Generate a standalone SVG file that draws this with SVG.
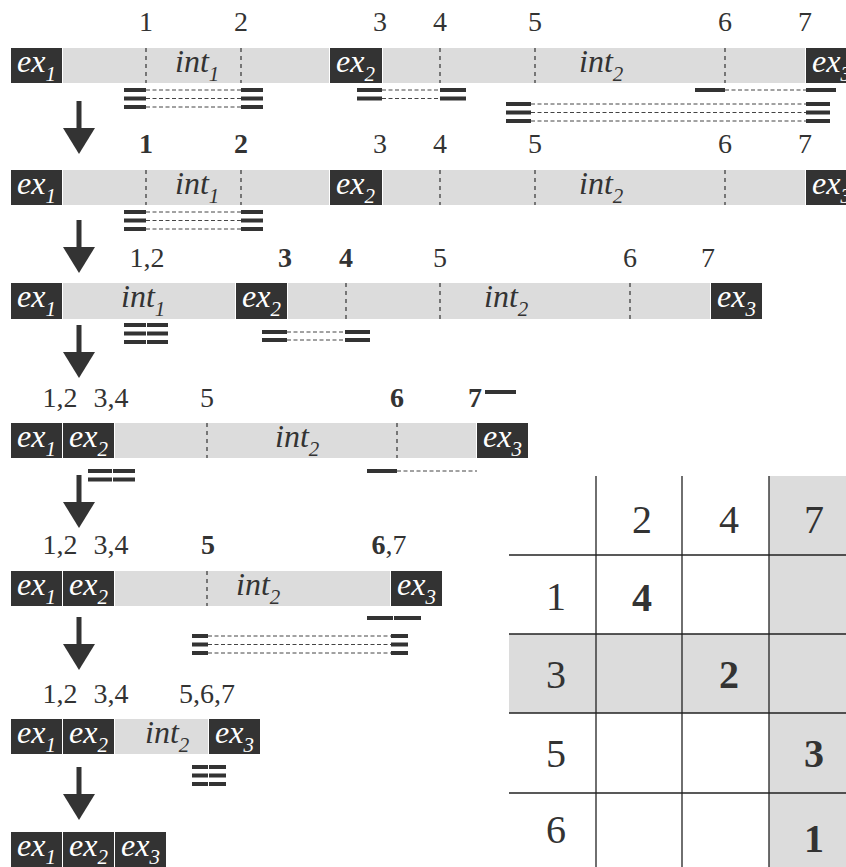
<svg xmlns="http://www.w3.org/2000/svg" width="846" height="867" viewBox="0 0 846 867">
<defs>
<style>
.ex{fill:#333}
.in{fill:#dcdcdc}
.vd{stroke:#333;stroke-width:1.2;stroke-dasharray:4 4}
.hd{stroke:#444;stroke-width:1;stroke-dasharray:4 2.5}
.tk{fill:#333}
.lab{font-family:"Liberation Serif",serif;font-size:28px;fill:#333;text-anchor:middle}
.b{font-weight:bold}
.et{font-family:"Liberation Serif",serif;font-style:italic;font-size:32px;fill:#fff}
.it{font-family:"Liberation Serif",serif;font-style:italic;font-size:32px;fill:#333}
.sub{font-size:21px}
.arr{stroke:#333;stroke-width:5;marker-end:url(#ah)}
.tl{stroke:#222;stroke-width:1.3}
.tg{fill:#dcdcdc}
.tn{font-family:"Liberation Serif",serif;font-size:40px;fill:#333;text-anchor:middle}
</style>
<marker id="ah" markerUnits="userSpaceOnUse" viewBox="0 0 32 26" refX="16" refY="0" markerWidth="32" markerHeight="26" orient="0"><path d="M0,0L32,0L16,26z" fill="#333"/></marker>
</defs>
<rect width="846" height="867" fill="#fff"/>

<!-- Row 1 -->
<g id="row1">
<rect class="ex" x="11" y="48" width="51" height="35"/>
<rect class="in" x="63" y="48" width="266" height="35"/>
<rect class="ex" x="330" y="48" width="52" height="35"/>
<rect class="in" x="383" y="48" width="422" height="35"/>
<rect class="ex" x="806" y="48" width="40" height="35"/>
<line class="vd" x1="146" y1="48" x2="146" y2="83"/>
<line class="vd" x1="241" y1="48" x2="241" y2="83"/>
<line class="vd" x1="440" y1="48" x2="440" y2="83"/>
<line class="vd" x1="535" y1="48" x2="535" y2="83"/>
<line class="vd" x1="725" y1="48" x2="725" y2="83"/>
<text class="et" x="17" y="72">ex<tspan class="sub" dy="9">1</tspan></text>
<text class="it" x="175" y="72">int<tspan class="sub" dy="9">1</tspan></text>
<text class="et" x="336" y="72">ex<tspan class="sub" dy="9">2</tspan></text>
<text class="it" x="579" y="72">int<tspan class="sub" dy="9">2</tspan></text>
<text class="et" x="812" y="72">ex<tspan class="sub" dy="9">3</tspan></text>
<text class="lab" x="146" y="31">1</text>
<text class="lab" x="241" y="31">2</text>
<text class="lab" x="380" y="31">3</text>
<text class="lab" x="440" y="31">4</text>
<text class="lab" x="535" y="31">5</text>
<text class="lab" x="725" y="31">6</text>
<text class="lab" x="805" y="31">7</text>
</g>

<!-- Row 2 -->
<g id="row2">
<rect class="ex" x="11" y="170" width="51" height="35"/>
<rect class="in" x="63" y="170" width="266" height="35"/>
<rect class="ex" x="330" y="170" width="52" height="35"/>
<rect class="in" x="383" y="170" width="422" height="35"/>
<rect class="ex" x="806" y="170" width="40" height="35"/>
<line class="vd" x1="146" y1="170" x2="146" y2="205"/>
<line class="vd" x1="241" y1="170" x2="241" y2="205"/>
<line class="vd" x1="440" y1="170" x2="440" y2="205"/>
<line class="vd" x1="535" y1="170" x2="535" y2="205"/>
<line class="vd" x1="725" y1="170" x2="725" y2="205"/>
<text class="et" x="17" y="194">ex<tspan class="sub" dy="9">1</tspan></text>
<text class="it" x="175" y="194">int<tspan class="sub" dy="9">1</tspan></text>
<text class="et" x="336" y="194">ex<tspan class="sub" dy="9">2</tspan></text>
<text class="it" x="579" y="194">int<tspan class="sub" dy="9">2</tspan></text>
<text class="et" x="812" y="194">ex<tspan class="sub" dy="9">3</tspan></text>
<text class="lab b" x="146" y="153">1</text>
<text class="lab b" x="241" y="153">2</text>
<text class="lab" x="380" y="153">3</text>
<text class="lab" x="440" y="153">4</text>
<text class="lab" x="535" y="153">5</text>
<text class="lab" x="725" y="153">6</text>
<text class="lab" x="805" y="153">7</text>
</g>

<!-- Row 3 -->
<g id="row3">
<rect class="ex" x="11" y="283" width="51" height="36"/>
<rect class="in" x="63" y="283" width="172" height="36"/>
<rect class="ex" x="236" y="283" width="51" height="36"/>
<rect class="in" x="288" y="283" width="422" height="36"/>
<rect class="ex" x="711" y="283" width="51" height="36"/>
<line class="vd" x1="346" y1="283" x2="346" y2="319"/>
<line class="vd" x1="440" y1="283" x2="440" y2="319"/>
<line class="vd" x1="630" y1="283" x2="630" y2="319"/>
<text class="et" x="17" y="307">ex<tspan class="sub" dy="9">1</tspan></text>
<text class="it" x="121" y="307">int<tspan class="sub" dy="9">1</tspan></text>
<text class="et" x="242" y="307">ex<tspan class="sub" dy="9">2</tspan></text>
<text class="it" x="484" y="307">int<tspan class="sub" dy="9">2</tspan></text>
<text class="et" x="717" y="307">ex<tspan class="sub" dy="9">3</tspan></text>
<text class="lab" x="147" y="267">1,2</text>
<text class="lab b" x="285" y="267">3</text>
<text class="lab b" x="346" y="267">4</text>
<text class="lab" x="440" y="267">5</text>
<text class="lab" x="630" y="267">6</text>
<text class="lab" x="708" y="267">7</text>
</g>

<!-- Row 4 -->
<g id="row4">
<rect class="ex" x="11" y="423" width="51" height="35"/>
<rect class="ex" x="63" y="423" width="51" height="35"/>
<rect class="in" x="115" y="423" width="361" height="35"/>
<rect class="ex" x="477" y="423" width="51" height="35"/>
<line class="vd" x1="207" y1="423" x2="207" y2="458"/>
<line class="vd" x1="397" y1="423" x2="397" y2="458"/>
<text class="et" x="17" y="447">ex<tspan class="sub" dy="9">1</tspan></text>
<text class="et" x="69" y="447">ex<tspan class="sub" dy="9">2</tspan></text>
<text class="it" x="275" y="447">int<tspan class="sub" dy="9">2</tspan></text>
<text class="et" x="483" y="447">ex<tspan class="sub" dy="9">3</tspan></text>
<text class="lab" x="60" y="407">1,2</text>
<text class="lab" x="111" y="407">3,4</text>
<text class="lab" x="207" y="407">5</text>
<text class="lab b" x="397" y="407">6</text>
<text class="lab b" x="475" y="407">7</text>
</g>

<!-- Row 5 -->
<g id="row5">
<rect class="ex" x="11" y="571" width="51" height="35"/>
<rect class="ex" x="63" y="571" width="51" height="35"/>
<rect class="in" x="115" y="571" width="275" height="35"/>
<rect class="ex" x="391" y="571" width="51" height="35"/>
<line class="vd" x1="207" y1="571" x2="207" y2="606"/>
<text class="et" x="17" y="595">ex<tspan class="sub" dy="9">1</tspan></text>
<text class="et" x="69" y="595">ex<tspan class="sub" dy="9">2</tspan></text>
<text class="it" x="236" y="595">int<tspan class="sub" dy="9">2</tspan></text>
<text class="et" x="397" y="595">ex<tspan class="sub" dy="9">3</tspan></text>
<text class="lab" x="60" y="554">1,2</text>
<text class="lab" x="111" y="554">3,4</text>
<text class="lab b" x="208" y="554">5</text>
<text class="lab" x="389" y="554"><tspan class="b">6</tspan>,7</text>
</g>

<!-- Row 6 -->
<g id="row6">
<rect class="ex" x="11" y="719" width="51" height="35"/>
<rect class="ex" x="63" y="719" width="51" height="35"/>
<rect class="in" x="115" y="719" width="93" height="35"/>
<rect class="ex" x="209" y="719" width="51" height="35"/>
<text class="et" x="17" y="743">ex<tspan class="sub" dy="9">1</tspan></text>
<text class="et" x="69" y="743">ex<tspan class="sub" dy="9">2</tspan></text>
<text class="it" x="145" y="743">int<tspan class="sub" dy="9">2</tspan></text>
<text class="et" x="215" y="743">ex<tspan class="sub" dy="9">3</tspan></text>
<text class="lab" x="60" y="703">1,2</text>
<text class="lab" x="111" y="703">3,4</text>
<text class="lab" x="207" y="703">5,6,7</text>
</g>

<!-- Row 7 -->
<g id="row7">
<rect class="ex" x="11" y="832" width="51" height="35"/>
<rect class="ex" x="63" y="832" width="51" height="35"/>
<rect class="ex" x="115" y="832" width="51" height="35"/>
<text class="et" x="17" y="856">ex<tspan class="sub" dy="8">1</tspan></text>
<text class="et" x="69" y="856">ex<tspan class="sub" dy="8">2</tspan></text>
<text class="et" x="121" y="856">ex<tspan class="sub" dy="8">3</tspan></text>
</g>

<!-- Connectors -->
<g id="connectors">
<!-- row 1 intervals -->
<rect class="tk" x="124" y="88" width="22" height="4"/><line class="hd" x1="146" y1="90" x2="241" y2="90"/><rect class="tk" x="241" y="88" width="22" height="4"/>
<rect class="tk" x="124" y="96.5" width="22" height="4"/><line class="hd" x1="146" y1="98.5" x2="241" y2="98.5"/><rect class="tk" x="241" y="96.5" width="22" height="4"/>
<rect class="tk" x="124" y="105" width="22" height="4"/><line class="hd" x1="146" y1="107" x2="241" y2="107"/><rect class="tk" x="241" y="105" width="22" height="4"/>
<rect class="tk" x="357" y="88" width="25" height="4"/><line class="hd" x1="382" y1="90" x2="440" y2="90"/><rect class="tk" x="440" y="88" width="26" height="4"/>
<rect class="tk" x="357" y="96.5" width="25" height="4"/><line class="hd" x1="382" y1="98.5" x2="440" y2="98.5"/><rect class="tk" x="440" y="96.5" width="26" height="4"/>
<rect class="tk" x="695" y="88" width="30" height="4"/><line class="hd" x1="725" y1="90" x2="806" y2="90"/><rect class="tk" x="806" y="88" width="30" height="4"/>
<rect class="tk" x="506" y="102" width="25" height="4"/><line class="hd" x1="531" y1="104" x2="806" y2="104"/><rect class="tk" x="806" y="102" width="24" height="4"/>
<rect class="tk" x="506" y="110.5" width="25" height="4"/><line class="hd" x1="531" y1="112.5" x2="806" y2="112.5"/><rect class="tk" x="806" y="110.5" width="24" height="4"/>
<rect class="tk" x="506" y="119" width="25" height="4"/><line class="hd" x1="531" y1="121" x2="806" y2="121"/><rect class="tk" x="806" y="119" width="24" height="4"/>
<!-- row 2 intervals -->
<rect class="tk" x="124" y="210" width="22" height="4"/><line class="hd" x1="146" y1="212" x2="241" y2="212"/><rect class="tk" x="241" y="210" width="22" height="4"/>
<rect class="tk" x="124" y="218.5" width="22" height="4"/><line class="hd" x1="146" y1="220.5" x2="241" y2="220.5"/><rect class="tk" x="241" y="218.5" width="22" height="4"/>
<rect class="tk" x="124" y="227" width="22" height="4"/><line class="hd" x1="146" y1="229" x2="241" y2="229"/><rect class="tk" x="241" y="227" width="22" height="4"/>
<!-- row 3 intervals -->
<rect class="tk" x="124" y="323" width="22" height="4"/><rect class="tk" x="147" y="323" width="21" height="4"/>
<rect class="tk" x="124" y="331.5" width="22" height="4"/><rect class="tk" x="147" y="331.5" width="21" height="4"/>
<rect class="tk" x="124" y="340" width="22" height="4"/><rect class="tk" x="147" y="340" width="21" height="4"/>
<rect class="tk" x="262" y="330" width="25" height="4"/><line class="hd" x1="287" y1="332" x2="345" y2="332"/><rect class="tk" x="345" y="330" width="25" height="4"/>
<rect class="tk" x="262" y="338" width="25" height="4"/><line class="hd" x1="287" y1="340" x2="345" y2="340"/><rect class="tk" x="345" y="338" width="25" height="4"/>
<!-- row 4 intervals -->
<rect class="tk" x="485" y="390" width="31" height="4"/>
<rect class="tk" x="88" y="469" width="24" height="4"/><rect class="tk" x="113" y="469" width="22" height="4"/>
<rect class="tk" x="88" y="477.5" width="24" height="4"/><rect class="tk" x="113" y="477.5" width="22" height="4"/>
<rect class="tk" x="367" y="469" width="30" height="4"/><line class="hd" x1="397" y1="471" x2="477" y2="471"/>
<!-- row 5 intervals -->
<rect class="tk" x="367" y="616" width="26" height="4"/><rect class="tk" x="394" y="616" width="27" height="4"/>
<rect class="tk" x="192" y="634" width="16" height="4"/><line class="hd" x1="208" y1="636" x2="391" y2="636"/><rect class="tk" x="391" y="634" width="17" height="4"/>
<rect class="tk" x="192" y="642.5" width="16" height="4"/><line class="hd" x1="208" y1="644.5" x2="391" y2="644.5"/><rect class="tk" x="391" y="642.5" width="17" height="4"/>
<rect class="tk" x="192" y="651" width="16" height="4"/><line class="hd" x1="208" y1="653" x2="391" y2="653"/><rect class="tk" x="391" y="651" width="17" height="4"/>
<!-- row 6 intervals -->
<rect class="tk" x="192" y="765" width="16" height="4"/><rect class="tk" x="209" y="765" width="17" height="4"/>
<rect class="tk" x="192" y="773.5" width="16" height="4"/><rect class="tk" x="209" y="773.5" width="17" height="4"/>
<rect class="tk" x="192" y="782" width="16" height="4"/><rect class="tk" x="209" y="782" width="17" height="4"/>
<!-- arrows -->
<line class="arr" x1="79" y1="101" x2="79" y2="128"/>
<line class="arr" x1="79" y1="220" x2="79" y2="247"/>
<line class="arr" x1="79" y1="325" x2="79" y2="352"/>
<line class="arr" x1="79" y1="475" x2="79" y2="502"/>
<line class="arr" x1="79" y1="617" x2="79" y2="644"/>
<line class="arr" x1="79" y1="767" x2="79" y2="794"/>
</g>

<!-- Table -->
<g id="table">
<rect class="tg" x="769" y="476" width="77" height="391"/>
<rect class="tg" x="509" y="634" width="337" height="79"/>
<line class="tl" x1="596" y1="476" x2="596" y2="867"/>
<line class="tl" x1="682" y1="476" x2="682" y2="867"/>
<line class="tl" x1="769" y1="476" x2="769" y2="867"/>
<line class="tl" x1="509" y1="555" x2="846" y2="555"/>
<line class="tl" x1="509" y1="634" x2="846" y2="634"/>
<line class="tl" x1="509" y1="713" x2="846" y2="713"/>
<line class="tl" x1="509" y1="793" x2="846" y2="793"/>
<text class="tn" x="642" y="533">2</text>
<text class="tn" x="729" y="533">4</text>
<text class="tn" x="814" y="533">7</text>
<text class="tn" x="556" y="610">1</text>
<text class="tn" x="556" y="688">3</text>
<text class="tn" x="556" y="767">5</text>
<text class="tn" x="556" y="843">6</text>
<text class="tn b" x="642" y="611">4</text>
<text class="tn b" x="729" y="688">2</text>
<text class="tn b" x="814" y="767">3</text>
<text class="tn b" x="814" y="852">1</text>
</g>
</svg>
